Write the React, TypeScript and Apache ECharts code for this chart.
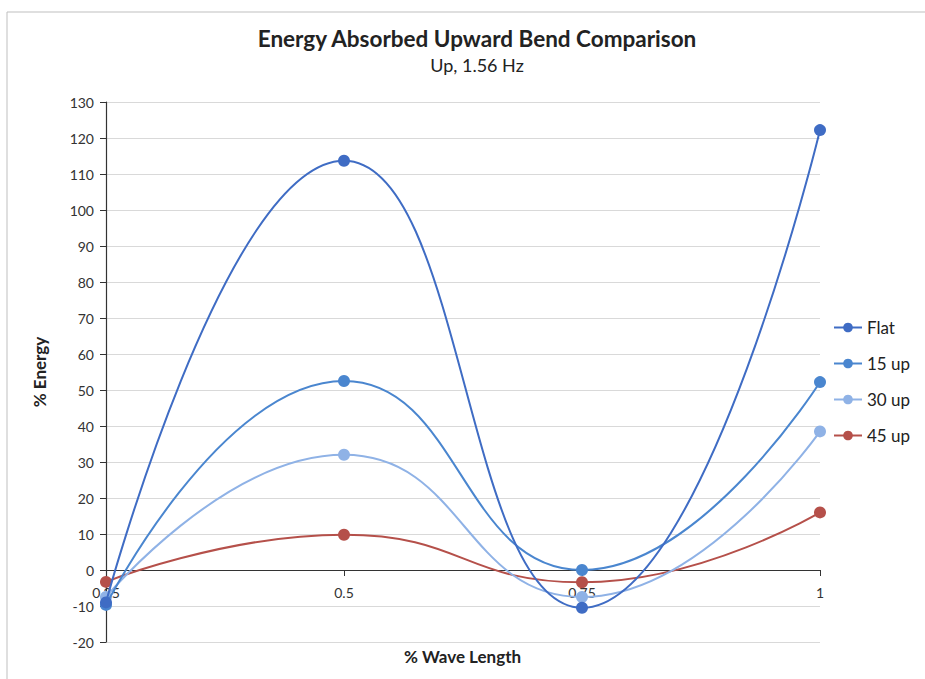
import React, { useEffect, useRef } from "react";
import * as echarts from "echarts";

const xValues = [0.25, 0.5, 0.75, 1];
const flat = [-9, 113.7, -10.5, 122.2];
const up15 = [-9.7, 52.5, 0, 52.2];
const up30 = [-7.5, 32, -7.5, 38.5];
const up45 = [-3.3, 9.8, -3.4, 16];
const seriesNames = ["Flat", "15 up", "30 up", "45 up"];
const seriesColors = ["#3F6CC4", "#4A86CF", "#8FB2E6", "#B5504A"];
const yTicks = { min: -20, max: 130, interval: 10 };

export default function App() {
  const ref = useRef<HTMLDivElement>(null);
  useEffect(() => {
    if (!ref.current) return;
    document.body.style.margin = "0";
    const chart = echarts.init(ref.current, null, { renderer: "svg" });
    const all = [flat, up15, up30, up45];
    const font = "Lato, 'Open Sans', sans-serif";
    chart.setOption({
      animation: false,
      backgroundColor: "#ffffff",
      textStyle: { fontFamily: font },
      title: {
        text: "Energy Absorbed Upward Bend Comparison",
        subtext: "Up, 1.56 Hz",
        left: 472,
        textAlign: "center",
        top: 22,
        itemGap: 6,
        textStyle: { fontSize: 22.5, fontWeight: "bold", color: "#222", fontFamily: font },
        subtextStyle: { fontSize: 18, color: "#222", fontFamily: font },
      },
      legend: {
        orient: "vertical",
        left: 828,
        top: 314,
        itemWidth: 28,
        itemHeight: 12,
        itemGap: 19,
        textStyle: { fontSize: 17, color: "#222", fontFamily: font },
        data: seriesNames,
      },
      grid: { left: 106, right: 105, top: 102, bottom: 37, containLabel: false },
      xAxis: {
        type: "value",
        min: 0.25,
        max: 1,
        interval: 0.25,
        axisLine: { onZero: true, lineStyle: { color: "#333", width: 1.2 } },
        axisTick: { show: true, length: 6, inside: false, lineStyle: { color: "#333" } },
        axisLabel: { fontSize: 14, color: "#333", margin: -57 },
        splitLine: { show: false },
      },
      yAxis: {
        type: "value",
        min: yTicks.min,
        max: yTicks.max,
        interval: yTicks.interval,
        name: "% Energy",
        nameLocation: "middle",
        nameGap: 58,
        nameRotate: 90,
        nameTextStyle: { fontSize: 17, fontWeight: "bold", color: "#222" },
        axisLine: { show: true, onZero: false, lineStyle: { color: "#333", width: 1.2 } },
        axisTick: { show: true, length: 6, lineStyle: { color: "#333" } },
        axisLabel: { fontSize: 14, color: "#333", margin: 12 },
        splitLine: { show: true, lineStyle: { color: "#D9D9D9", width: 1 } },
      },
      series: seriesNames.map((name, i) => ({
        name,
        type: "line",
        smooth: 0.5,
        symbol: "circle",
        symbolSize: 12,
        color: seriesColors[i],
        lineStyle: { width: 2, color: seriesColors[i] },
        itemStyle: { color: seriesColors[i] },
        data: xValues.map((x, j) => [x, all[i][j]]),
        z: 10 - i,
      })),
      graphic: [
        {
          type: "rect",
          shape: { x: 7, y: 12, width: 930, height: 680 },
          style: { fill: "none", stroke: "#BFBFBF", lineWidth: 1 },
          silent: true,
        },
        {
          type: "text",
          left: 404,
          top: 648,
          style: {
            text: "% Wave Length",
            fontSize: 17,
            fontWeight: "bold",
            fill: "#222",
            fontFamily: font,
          },
          silent: true,
        },
      ],
    });
    return () => chart.dispose();
  }, []);
  return <div ref={ref} style={{ width: 925, height: 679 }} />;
}
